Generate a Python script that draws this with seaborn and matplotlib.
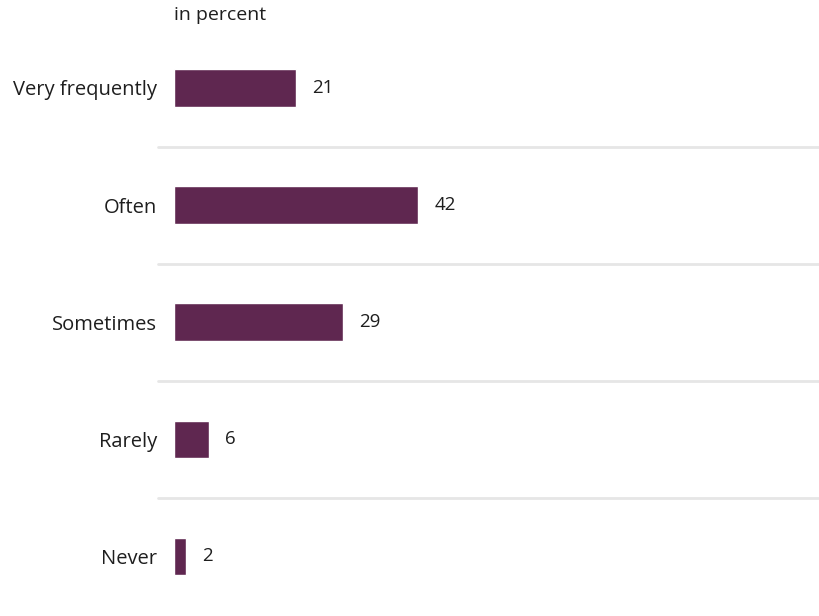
import matplotlib
matplotlib.use("Agg")
import matplotlib.pyplot as plt
import seaborn as sns
import pandas as pd

categories = ["Very frequently", "Often", "Sometimes", "Rarely", "Never"]
values = [21, 42, 29, 6, 2]
unit_label = "in percent"

bar_color = "#5f2750"
sep_color = "#e6e6e6"
text_color = "#1e1e1e"

sns.set_theme(style="white")
plt.rcParams["font.family"] = ["Open Sans", "DejaVu Sans"]

df = pd.DataFrame({"category": categories, "value": values})

W, H = 820, 616
fig = plt.figure(figsize=(W / 100, H / 100), dpi=100)
ax_left, ax_right = 174, 820
ax_top, ax_bottom = 29.4, 615
px_per_unit = 5.82
ax = fig.add_axes([ax_left / W, 1 - ax_bottom / H,
                   (ax_right - ax_left) / W, (ax_bottom - ax_top) / H])

sns.barplot(data=df, x="value", y="category", order=categories,
            color=bar_color, saturation=1, width=0.32, ax=ax)

ax.set_xlim(0, (ax_right - ax_left) / px_per_unit)
ax.set_ylim(len(categories) - 0.5, -0.5)

# separators between rows, extending slightly past the axis on the left
for i in range(len(categories) - 1):
    ax.axhline(i + 0.5, xmin=-16 / (ax_right - ax_left), xmax=1,
               color=sep_color, linewidth=2, clip_on=False, zorder=0)

# value labels next to each bar
for i, v in enumerate(values):
    ax.text(v + 16 / px_per_unit, i, f"{v}", va="center", ha="left",
            fontsize=13.5, color=text_color)

ax.set_xlabel("")
ax.set_ylabel("")
ax.set_xticks([])
ax.tick_params(axis="y", length=0, pad=12.2, labelsize=14.5, labelcolor=text_color)
for s in ax.spines.values():
    s.set_visible(False)

fig.text(ax_left / W, 1 - 15 / H, unit_label, ha="left", va="center",
         fontsize=14, color=text_color)

fig.savefig("out.png", dpi=100)
